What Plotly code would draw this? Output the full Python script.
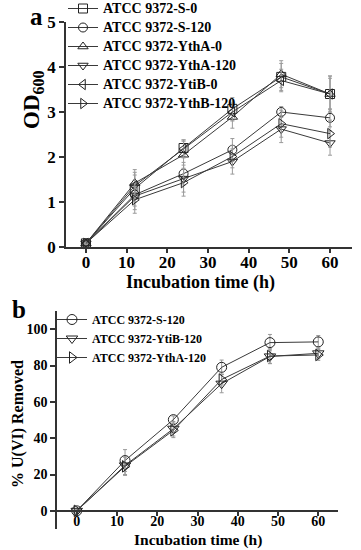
import plotly.graph_objects as go

# ---------------- data ----------------
time_h = [0, 12, 24, 36, 48, 60]

# Panel a: OD600
a_names = ["ATCC 9372-S-0", "ATCC 9372-S-120", "ATCC 9372-YthA-0",
           "ATCC 9372-YthA-120", "ATCC 9372-YtiB-0", "ATCC 9372-YthB-120"]
a_s0 = [0.08, 1.30, 2.20, 3.07, 3.78, 3.40]
a_s120 = [0.08, 1.16, 1.63, 2.16, 3.00, 2.87]
a_ytha0 = [0.08, 1.42, 2.05, 2.89, 3.84, 3.40]
a_ytha120 = [0.08, 1.13, 1.52, 1.90, 2.62, 2.31]
a_ytib0 = [0.08, 1.36, 2.18, 3.00, 3.70, 3.40]
a_ythb120 = [0.08, 1.05, 1.43, 2.01, 2.74, 2.52]

a_s0_err = [0.02, 0.30, 0.18, 0.25, 0.30, 0.40]
a_s120_err = [0.02, 0.25, 0.25, 0.25, 0.12, 0.20]
a_ytha0_err = [0.02, 0.30, 0.30, 0.25, 0.30, 0.40]
a_ytha120_err = [0.02, 0.30, 0.30, 0.28, 0.30, 0.27]
a_ytib0_err = [0.02, 0.30, 0.20, 0.20, 0.25, 0.35]
a_ythb120_err = [0.02, 0.30, 0.30, 0.25, 0.30, 0.30]

a_values = [a_s0, a_s120, a_ytha0, a_ytha120, a_ytib0, a_ythb120]
a_errors = [a_s0_err, a_s120_err, a_ytha0_err, a_ytha120_err, a_ytib0_err, a_ythb120_err]
a_symbols = ["square-open", "circle-open", "triangle-up-open",
             "triangle-down-open", "triangle-left-open", "triangle-right-open"]

# Panel b: % U(VI) removed
b_names = ["ATCC 9372-S-120", "ATCC 9372-YtiB-120", "ATCC 9372-YthA-120"]
b_s120 = [0.0, 27.7, 50.2, 79.0, 92.6, 93.0]
b_ytib120 = [0.0, 25.0, 45.2, 70.0, 85.0, 86.7]
b_ytha120 = [0.0, 24.5, 44.3, 72.3, 85.2, 85.8]
b_s120_err = [0.5, 6.0, 2.0, 4.0, 4.5, 3.5]
b_ytib120_err = [0.5, 5.0, 4.0, 5.0, 4.0, 3.0]
b_ytha120_err = [0.5, 5.0, 4.0, 3.0, 4.0, 3.0]

b_values = [b_s120, b_ytib120, b_ytha120]
b_errors = [b_s120_err, b_ytib120_err, b_ytha120_err]
b_symbols = ["circle-open", "triangle-down-open", "triangle-right-open"]

a_yticks = [0, 1, 2, 3, 4, 5]
b_yticks = [0, 20, 40, 60, 80, 100]
x_ticks = [0, 10, 20, 30, 40, 50, 60]

# ---------------- figure ----------------
W, H = 361, 550
FONT = "Liberation Serif"
LINE_C = "#3a3a3a"
ERR_C = "#9a9a9a"

fig = go.Figure()

for name, vals, errs, sym in zip(a_names, a_values, a_errors, a_symbols):
    fig.add_trace(go.Scatter(
        x=time_h, y=vals, name=f'<span style="font-size:14px">{name}</span>',
        mode="lines+markers",
        xaxis="x", yaxis="y", legend="legend",
        line=dict(color=LINE_C, width=1),
        marker=dict(symbol=sym, size=9, color="#222222", line=dict(width=1)),
        error_y=dict(type="data", array=errs, color=ERR_C, thickness=1, width=2),
        cliponaxis=False,
    ))

for name, vals, errs, sym in zip(b_names, b_values, b_errors, b_symbols):
    fig.add_trace(go.Scatter(
        x=time_h, y=vals, name=name, mode="lines+markers",
        xaxis="x2", yaxis="y2", legend="legend2",
        line=dict(color=LINE_C, width=1),
        marker=dict(symbol=sym, size=10, color="#222222", line=dict(width=1)),
        error_y=dict(type="data", array=errs, color=ERR_C, thickness=1, width=2),
        cliponaxis=False,
    ))

def px_x(p):
    return p / W

def px_y(p):
    return 1 - p / H

b_range = [-10, 110]
b_dom = [px_y(529), px_y(311)]
b_zero_pos = b_dom[0] + (b_dom[1] - b_dom[0]) * (0 - b_range[0]) / (b_range[1] - b_range[0])

def axis_style(tick_size, ticklen=5):
    return dict(
        showline=True, linecolor="#333333", linewidth=1.5,
        ticks="outside", ticklen=ticklen, tickwidth=1.5, tickcolor="#333333",
        showgrid=False, zeroline=False, automargin=False,
        tickfont=dict(family=FONT, size=tick_size, color="black", weight="bold"),
    )

def title_ann(text, x, y, size, angle=0):
    return dict(text=text, x=px_x(x), y=px_y(y), xref="paper", yref="paper",
                xanchor="center", yanchor="middle", showarrow=False, textangle=angle,
                font=dict(family=FONT, size=size, color="black", weight="bold"))

fig.update_layout(
    width=W, height=H,
    margin=dict(l=0, r=0, t=0, b=0, autoexpand=False),
    paper_bgcolor="white", plot_bgcolor="white",
    font=dict(family=FONT, color="black"),
    showlegend=True,
    xaxis=dict(
        domain=[px_x(66), px_x(352)], range=[-4.9, 65.4], anchor="y",
        tickvals=x_ticks, ticklabelstandoff=-5, **axis_style(17, 4),
    ),
    yaxis=dict(
        domain=[px_y(247), px_y(22)], range=[0, 5], anchor="x",
        tickvals=a_yticks, **axis_style(17),
    ),
    xaxis2=dict(
        domain=[px_x(57), px_x(338)], range=[-4.9, 64.9], anchor="free",
        position=b_zero_pos, tickvals=x_ticks, ticklabelstandoff=-6,
        **axis_style(14, 4),
    ),
    yaxis2=dict(
        domain=b_dom, range=b_range, anchor="x2",
        tickvals=b_yticks, **axis_style(14),
    ),
    legend=dict(
        x=px_x(63), y=px_y(-6), xanchor="left", yanchor="top",
        bgcolor="rgba(0,0,0,0)", borderwidth=0,
        font=dict(family=FONT, size=12, color="black", weight="bold"),
        tracegroupgap=0, itemwidth=30,
    ),
    legend2=dict(
        x=px_x(52), y=px_y(305), xanchor="left", yanchor="top",
        bgcolor="rgba(0,0,0,0)", borderwidth=0,
        font=dict(family=FONT, size=12, color="black", weight="bold"),
        tracegroupgap=0, itemwidth=30,
    ),
    annotations=[
        title_ann("a", 36, 17, 25),
        title_ann("b", 19, 309, 25),
        title_ann("OD<sub>600</sub>", 33, 100, 23, -90),
        title_ann("Incubation time (h)", 200, 282, 18),
        title_ann("% U(VI) Removed", 18, 424, 16, -90),
        title_ann("Incubation time (h)", 198, 540, 15.5),
    ],
)

fig.write_html(
    "out.html",
    config={"displayModeBar": False},
    post_script="document.body.style.margin='0';document.body.style.overflow='hidden';",
)
